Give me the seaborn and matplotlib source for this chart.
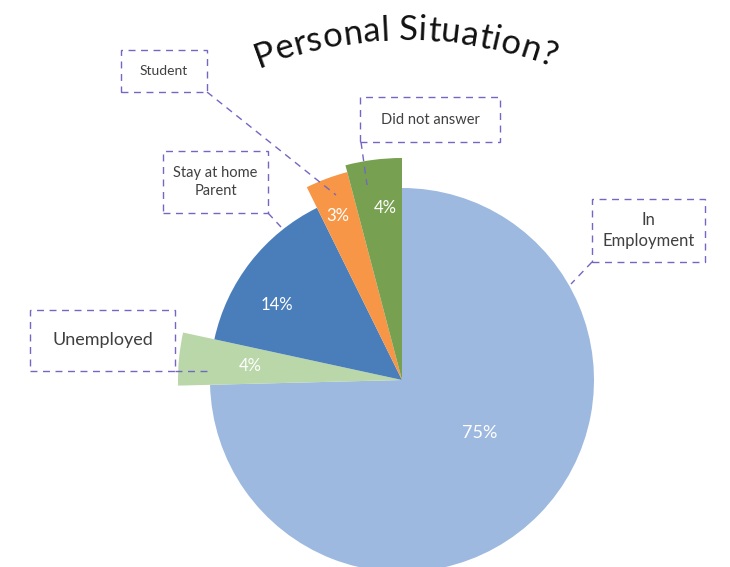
import numpy as np
import matplotlib
matplotlib.use("Agg")
import matplotlib.pyplot as plt
import seaborn as sns
from matplotlib.patches import Rectangle
from matplotlib.font_manager import FontProperties

sns.set_theme(style="white")
plt.rcParams['font.family'] = ['Lato', 'DejaVu Sans']

# data (clockwise from 12 o'clock)
categories = ['In Employment', 'Unemployed', 'Stay at home Parent', 'Student', 'Did not answer']
shares = [74.6, 3.8, 14.3, 3.2, 4.1]
colors = ['#9DB9E0', '#BAD7A9', '#4A7EBB', '#F79646', '#77A050']
box_labels = ['In\nEmployment', 'Unemployed', 'Stay at home\nParent', 'Student', 'Did not answer']

W, H = 730, 567
fig = plt.figure(figsize=(7.3, 5.67), dpi=100)
ax = fig.add_axes([0, 0, 1, 1])

cx, cy, r0 = 402, 187, 192
radii = [192, 224, 192, 215, 222]
wedges, _, pcts = ax.pie(shares, colors=colors, startangle=90, counterclock=False,
                         center=(cx, cy), radius=r0, autopct='%1.0f%%',
                         textprops=dict(color='white', fontsize=12),
                         wedgeprops=dict(linewidth=0))
ax.set_xlim(0, W)
ax.set_ylim(0, H)
ax.set_aspect('equal')
ax.axis('off')

# label placement (fraction of radius, angle shift)
pfrac = [0.49, 0.68, 0.76, 0.82, 0.78]
pshift = [10, 0, 7, 1, -2]
for w, t, r, f, s in zip(wedges, pcts, radii, pfrac, pshift):
    w.set_radius(r)
    a = np.deg2rad((w.theta1 + w.theta2) / 2 + s)
    t.set_position((cx + f * r * np.cos(a), cy + f * r * np.sin(a)))
    t.set_ha('center'); t.set_va('center')
pcts[0].set_fontsize(13)

def fy(y):
    return H - y

# label boxes: (x0, y0, x1, y1) in image pixels, text size, leader line
lc = '#7467C2'
boxes = {
    'In Employment': ((592, 199, 705, 262), 12, [(592, 262), (571, 284)]),
    'Unemployed': ((30, 310, 175, 371), 13, [(175, 371), (208, 371)]),
    'Stay at home Parent': ((163, 151, 268, 213), 10.5, [(268, 213), (281, 227)]),
    'Student': ((121, 50, 207, 92), 10, [(207, 92), (336, 195)]),
    'Did not answer': ((360, 97, 500, 142), 10.5, [(361, 142), (367, 185)]),
}
for cat, lab in zip(categories, box_labels):
    (x0, y0, x1, y1), fs, line = boxes[cat]
    ax.add_patch(Rectangle((x0, fy(y1)), x1 - x0, y1 - y0, fill=False,
                           edgecolor=lc, linestyle=(0, (5, 4)), linewidth=1))
    ax.text((x0 + x1) / 2, fy((y0 + y1) / 2), lab, ha='center', va='center',
            fontsize=fs, color='#404040', linespacing=1.4)
    (ax_, ay_), (bx_, by_) = line
    ax.plot([ax_, bx_], [fy(ay_), fy(by_)], color=lc, linestyle=(0, (5, 4)), linewidth=1)

# curved title
title = 'Personal Situation?'
tfs = 25
prop = FontProperties(family=['Lato', 'DejaVu Sans'], size=tfs)
fig.canvas.draw()
renderer = fig.canvas.get_renderer()
widths = [1.03 * renderer.get_text_width_height_descent(ch if ch != ' ' else 'i', prop, ismath=False)[0]
          for ch in title]
total = sum(widths)
R = 400
acx, acy = 405, fy(40) - R
pos = 0
for ch, w in zip(title, widths):
    c = pos + w / 2
    th = np.pi / 2 + (total / 2 - c) / R
    ax.text(acx + R * np.cos(th), acy + R * np.sin(th), ch, fontproperties=prop,
            rotation=np.rad2deg(th) - 90, rotation_mode='anchor',
            ha='center', va='baseline', color='#111111')
    pos += w

fig.savefig('out.png', dpi=100)
